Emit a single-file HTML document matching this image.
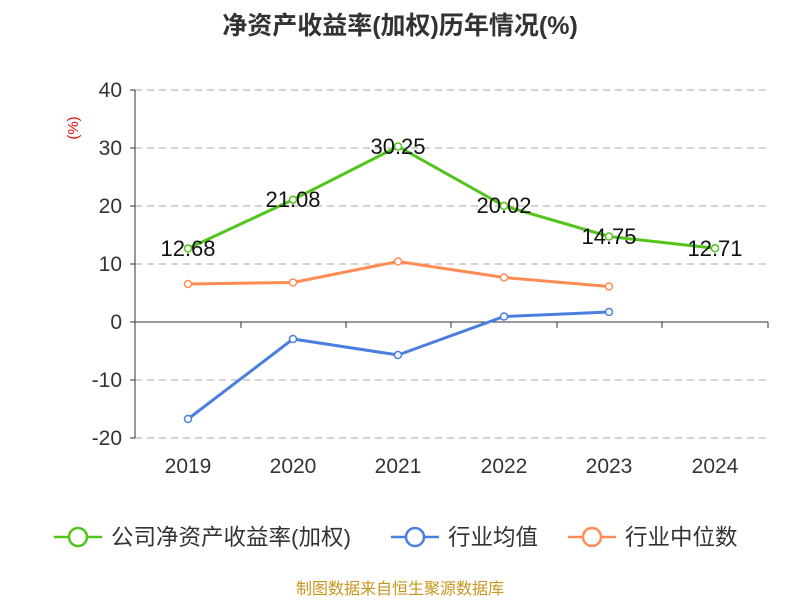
<!DOCTYPE html>
<html><head><meta charset="utf-8"><style>body{margin:0;background:#fff}</style></head><body>
<svg width="800" height="600" xmlns="http://www.w3.org/2000/svg" font-family="Liberation Sans, Noto Sans CJK SC, sans-serif">
<text x="400" y="34" text-anchor="middle" font-size="25" font-weight="bold" fill="#333">净资产收益率(加权)历年情况(%)</text>
<text x="78" y="128" font-size="15" fill="#e00" transform="rotate(-90 78 128)" text-anchor="middle">(%)</text>
<g stroke="#bbb" stroke-dasharray="7,5" stroke-width="1.2">
<line x1="135" x2="768" y1="90" y2="90"/><line x1="135" x2="768" y1="148" y2="148"/><line x1="135" x2="768" y1="206" y2="206"/><line x1="135" x2="768" y1="264" y2="264"/><line x1="135" x2="768" y1="380" y2="380"/><line x1="135" x2="768" y1="438" y2="438"/>
</g>
<line x1="135" x2="135" y1="90" y2="438" stroke="#333"/>
<line x1="135" x2="768" y1="322" y2="322" stroke="#333"/>
<g stroke="#333"><line x1="130" x2="135" y1="90" y2="90"/><line x1="130" x2="135" y1="148" y2="148"/><line x1="130" x2="135" y1="206" y2="206"/><line x1="130" x2="135" y1="264" y2="264"/><line x1="130" x2="135" y1="322" y2="322"/><line x1="130" x2="135" y1="380" y2="380"/><line x1="130" x2="135" y1="438" y2="438"/>
<line x1="241" x2="241" y1="322" y2="328"/><line x1="346" x2="346" y1="322" y2="328"/><line x1="451" x2="451" y1="322" y2="328"/><line x1="557" x2="557" y1="322" y2="328"/><line x1="662" x2="662" y1="322" y2="328"/><line x1="768" x2="768" y1="322" y2="328"/></g>
<g font-size="21" fill="#333" text-anchor="end"><text x="122" y="97">40</text><text x="122" y="155">30</text><text x="122" y="213">20</text><text x="122" y="271">10</text><text x="122" y="329">0</text><text x="122" y="387">-10</text><text x="122" y="445">-20</text></g>
<g font-size="21" fill="#333" text-anchor="middle"><text x="188" y="473">2019</text><text x="293" y="473">2020</text><text x="398" y="473">2021</text><text x="504" y="473">2022</text><text x="609" y="473">2023</text><text x="715" y="473">2024</text></g>
<polyline fill="none" stroke="#52c41a" stroke-width="3" points="188,248.5 293,199.7 398,146.5 504,205.9 609,236.5 715,248.3"/>
<polyline fill="none" stroke="#ff8c55" stroke-width="3" points="188,284 293,282.5 398,261.5 504,277.5 609,286.5"/>
<polyline fill="none" stroke="#4a7fe0" stroke-width="3" points="188,419 293,339 398,355 504,316.5 609,312"/>
<g fill="#fff" stroke-width="1.5">
<g stroke="#52c41a"><circle cx="188" cy="248.5" r="3.5"/><circle cx="293" cy="199.7" r="3.5"/><circle cx="398" cy="146.5" r="3.5"/><circle cx="504" cy="205.9" r="3.5"/><circle cx="609" cy="236.5" r="3.5"/><circle cx="715" cy="248.3" r="3.5"/></g>
<g stroke="#ff8c55"><circle cx="188" cy="284" r="3.5"/><circle cx="293" cy="282.5" r="3.5"/><circle cx="398" cy="261.5" r="3.5"/><circle cx="504" cy="277.5" r="3.5"/><circle cx="609" cy="286.5" r="3.5"/></g>
<g stroke="#4a7fe0"><circle cx="188" cy="419" r="3.5"/><circle cx="293" cy="339" r="3.5"/><circle cx="398" cy="355" r="3.5"/><circle cx="504" cy="316.5" r="3.5"/><circle cx="609" cy="312" r="3.5"/></g>
</g>
<g font-size="22" fill="#111" text-anchor="middle"><text x="188" y="256">12.68</text><text x="293" y="207">21.08</text><text x="398" y="154">30.25</text><text x="504" y="213">20.02</text><text x="609" y="244">14.75</text><text x="715" y="256">12.71</text></g>
<g stroke-width="2.5" fill="#fff">
<line x1="54" x2="102" y1="537" y2="537" stroke="#52c41a"/><circle cx="78" cy="537" r="9" stroke="#52c41a"/>
<line x1="391" x2="439" y1="537" y2="537" stroke="#4a7fe0"/><circle cx="415" cy="537" r="9" stroke="#4a7fe0"/>
<line x1="568" x2="616" y1="537" y2="537" stroke="#ff8c55"/><circle cx="592" cy="537" r="9" stroke="#ff8c55"/>
</g>
<g font-size="22.5" fill="#333"><text x="111" y="545">公司净资产收益率(加权)</text><text x="448" y="545">行业均值</text><text x="625" y="545">行业中位数</text></g>
<text x="400" y="594" text-anchor="middle" font-size="16" fill="#c8961e">制图数据来自恒生聚源数据库</text>
</svg>
</body></html>
